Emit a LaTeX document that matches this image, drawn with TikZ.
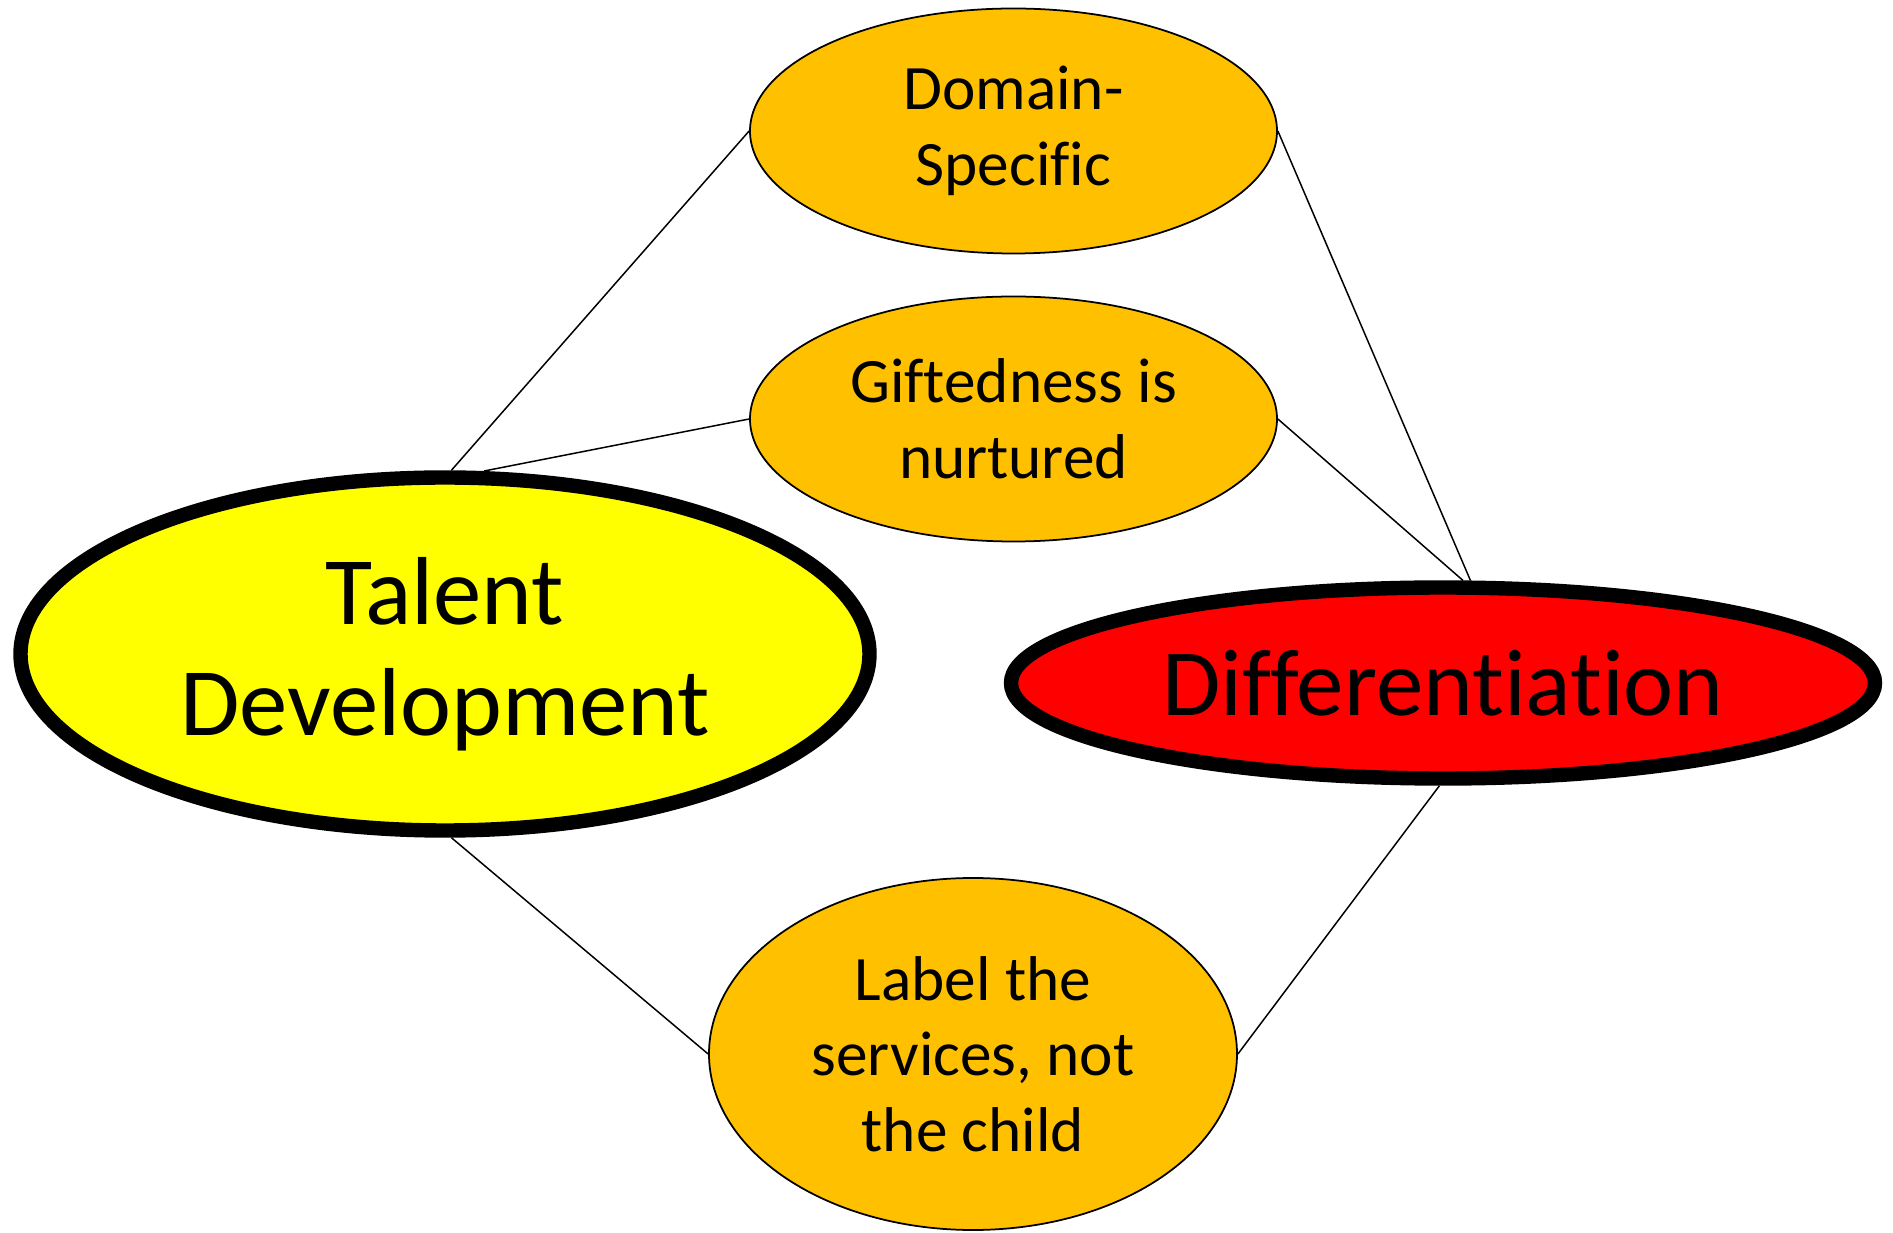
\documentclass[tikz,border=0pt]{standalone}
\usepackage{fontspec}
\setmainfont{Carlito}[Ligatures={NoCommon,NoContextual}]
\usetikzlibrary{shapes.geometric}
\definecolor{topicorange}{HTML}{FFC000}
\definecolor{talentyellow}{HTML}{FFFF00}
\definecolor{diffred}{HTML}{FF0000}

\begin{document}
\begin{tikzpicture}[
    big/.style={ellipse,draw,line width=8.2pt,align=center,inner sep=0pt,font=\fontsize{55}{63}\selectfont},
    topic/.style={ellipse,draw,line width=1pt,fill=topicorange,align=center,inner sep=0pt,minimum width=10.54cm,minimum height=4.9cm,font=\fontsize{36}{43}\selectfont},
    link/.style={line width=0.85pt}]
     \useasboundingbox (0,0) rectangle (37.86,24.64);
     \node[big,fill=talentyellow,minimum width=16.98cm,minimum height=7.06cm] (talent) at (8.90,11.56) {Talent\\Development};
     \node[big,fill=diffred,minimum width=17.28cm,minimum height=3.82cm,font=\fontsize{54}{62}\selectfont] (diff) at (28.86,10.98) {Differentiation};
     \node[topic] (domain) at (20.27,22.02) {Domain-\\Specific};
     \node[topic] (gifted) at (20.27,16.26) {Giftedness is\\nurtured};
     \node[topic,minimum width=10.56cm,minimum height=7.04cm] (services) at (19.46,3.56) {Label the\\services, not\\the child};
     \draw[link] (talent.88) -- (domain.west);
     \draw[link] (talent.78) -- (gifted.west);
     \draw[link] (domain.east) -- (diff.75);
     \draw[link] (gifted.east) -- (diff.79);
     \draw[link] (talent.272) -- (services.west);
     \draw[link] (services.east) -- (diff.268);
    \end{tikzpicture}
\end{document}
